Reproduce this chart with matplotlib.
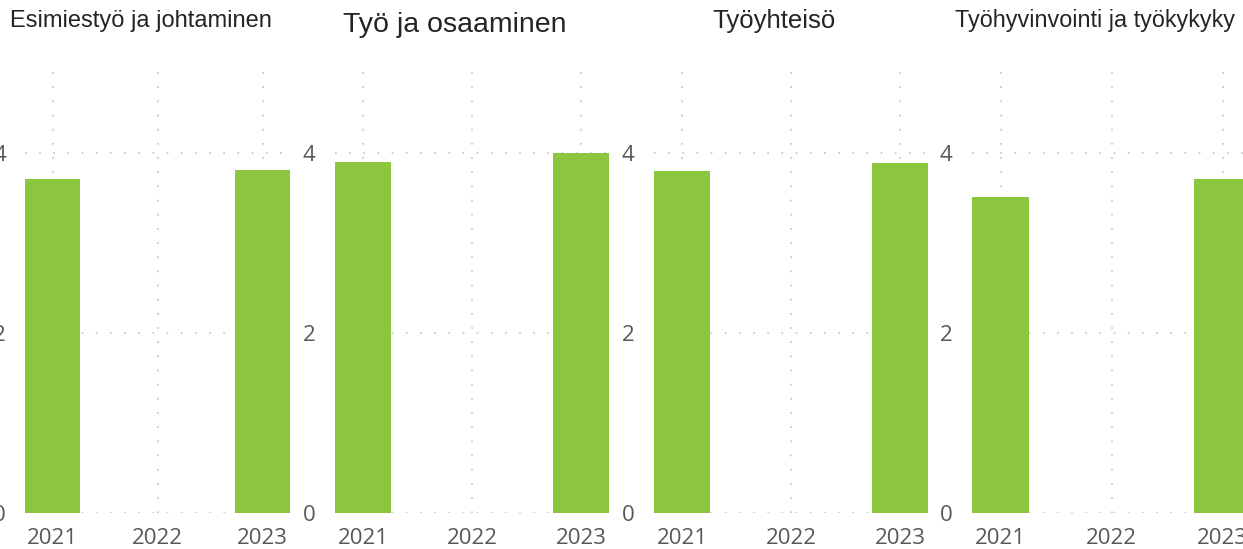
import numpy as np
from matplotlib import pyplot as plt

# data (2022 has no value)
years = [2021, 2022, 2023]
year_labels = ['2021', '2022', '2023']
titles = ['Esimiestyö ja johtaminen', 'Työ ja osaaminen', 'Työyhteisö', 'Työhyvinvointi ja työkykyky']
esimiestyo = [3.71, np.nan, 3.81]
tyo_osaaminen = [3.90, np.nan, 4.00]
tyoyhteiso = [3.80, np.nan, 3.88]
tyohyvinvointi = [3.51, np.nan, 3.71]
yticks = [0, 2, 4]

W, H = 1243, 549
fig = plt.figure(figsize=(W / 100, H / 100), dpi=100)

bar_w = 0.52
green = '#8cc63f'
grid_col = '#c4c4c4'
tick_col = '#5a5856'

# panel placement in pixels: (center of 2021, pixels per year)
panels = [(52.5, 105), (363, 109), (682, 109), (1000.5, 111)]
title_pos = [(10, 27, 17), (343, 32, 20.5), (712, 28, 18.5), (955, 27, 16.8)]
series = [esimiestyo, tyo_osaaminen, tyoyhteiso, tyohyvinvointi]

y0, y5 = 513, 62.5
for i in range(4):
    c, ppy = panels[i]
    left = c - bar_w / 2 * ppy
    width = (2 + bar_w) * ppy
    ax = fig.add_axes([left / W, (H - y0) / H, width / W, (y0 - y5) / H])
    ax.bar(years, series[i], width=bar_w, color=green, zorder=3)
    ax.set_xlim(years[0] - bar_w / 2, years[-1] + bar_w / 2)
    ax.set_ylim(0, 5)
    ax.set_xticks(years)
    ax.set_xticklabels(year_labels)
    ax.set_yticks(yticks)
    for s in ax.spines.values():
        s.set_visible(False)
    ax.grid(True, color=grid_col, linestyle=(0, (1, 7.5)), linewidth=1.2, zorder=0)
    ax.tick_params(length=0, colors=tick_col, labelsize=16)
    ax.tick_params(axis='y', pad=14)
    ax.tick_params(axis='x', pad=11)
    for lab in ax.get_xticklabels() + ax.get_yticklabels():
        lab.set_fontfamily('Open Sans')
    tx, ty, fs = title_pos[i]
    fig.text(tx / W, 1 - ty / H, titles[i], fontsize=fs, family='Liberation Sans',
             color='#252423', ha='left', va='baseline')

plt.savefig('out.png', dpi=100)
